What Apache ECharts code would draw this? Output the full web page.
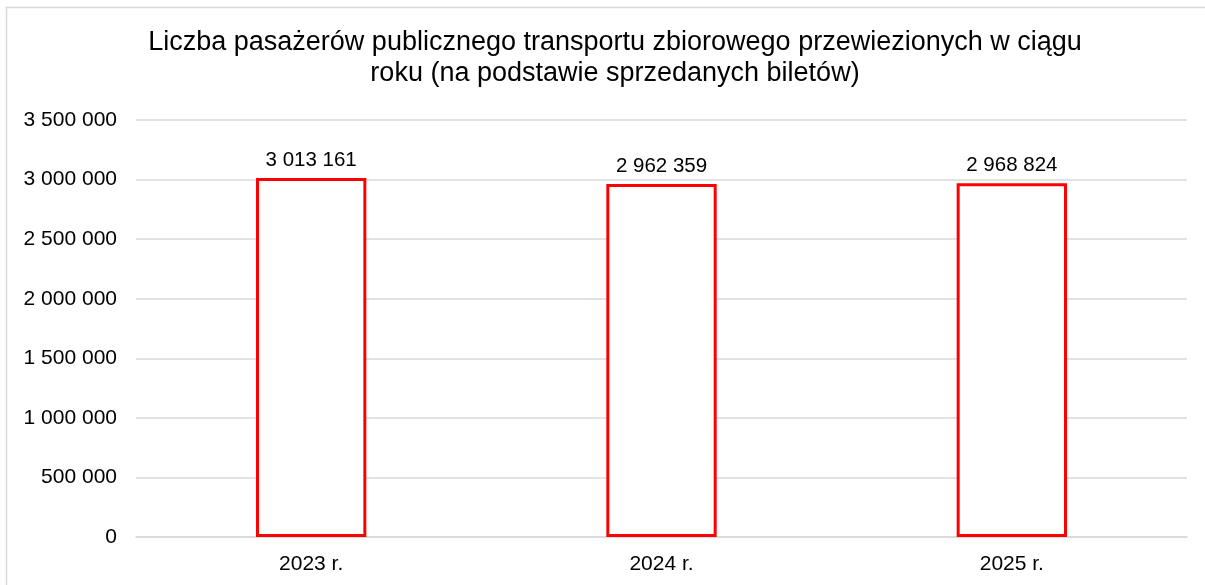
<!DOCTYPE html>
<html>
<head>
<meta charset="utf-8">
<script src="https://cdn.jsdelivr.net/npm/echarts@6/dist/echarts.min.js"></script>
<style>
html,body{margin:0;padding:0;background:#fff;}
#c{width:1205px;height:585px;}
</style>
</head>
<body>
<div id="c"></div>
<script>
const categories = ['2023 r.', '2024 r.', '2025 r.'];
const passengers = [3013161, 2962359, 2968824];
const titleText = 'Liczba pasażerów publicznego transportu zbiorowego przewiezionych w ciągu\nroku (na podstawie sprzedanych biletów)';

function fmt(v){ return String(Math.round(v)).replace(/\B(?=(\d{3})+(?!\d))/g, ' '); }

const chart = echarts.init(document.getElementById('c'));
chart.setOption({
  animation: false,
  backgroundColor: '#fff',
  textStyle: { fontFamily: 'Liberation Sans, Arial, sans-serif' },
  graphic: [{
    type: 'rect', left: 4, top: 5,
    shape: { width: 1300, height: 700 },
    style: { fill: 'none', stroke: '#d9d9d9', lineWidth: 1.5 },
    silent: true, z: -1
  }],
  title: {
    text: titleText,
    left: 610, top: 22,
    textAlign: 'center',
    textStyle: { fontSize: 27, fontWeight: 'normal', color: '#000', lineHeight: 31, fontFamily: 'Liberation Sans, Arial, sans-serif' }
  },
  grid: { left: 136, right: 18, top: 120, bottom: 48, containLabel: false },
  xAxis: {
    type: 'category', data: categories,
    axisLine: { show: true, lineStyle: { color: '#d9d9d9', width: 1.5 } },
    axisTick: { show: false },
    axisLabel: { color: '#000', fontSize: 21, margin: 17 }
  },
  yAxis: {
    type: 'value', min: 0, max: 3500000, interval: 500000,
    axisLine: { show: false }, axisTick: { show: false },
    splitLine: { lineStyle: { color: '#d9d9d9', width: 1.5 } },
    axisLabel: { color: '#000', fontSize: 21, margin: 19, formatter: fmt }
  },
  series: [{
    type: 'bar', data: passengers, barWidth: '31.5%',
    itemStyle: { color: '#fff', borderColor: '#ff0000', borderWidth: 3 },
    label: { show: true, position: 'top', color: '#000', fontSize: 20.5, distance: 7, formatter: p => fmt(p.value) }
  }]
});
</script>
</body>
</html>
